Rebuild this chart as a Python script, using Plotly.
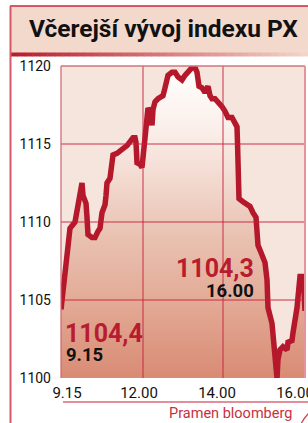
import plotly.graph_objects as go

# chart time axis (hours on the chart's own scale) and PX index values
cas = [9.95, 10.0, 10.05, 10.1, 10.125, 10.175, 10.3, 10.375, 10.425, 10.475, 10.5, 10.575, 10.6, 10.625,
       10.725, 10.8, 10.875, 10.925, 10.975, 11.05, 11.075, 11.1, 11.175, 11.2, 11.225, 11.25, 11.35, 11.425,
       11.5, 11.6, 11.675, 11.75, 11.8, 11.825, 11.85, 11.925, 11.975, 12.0, 12.05, 12.1, 12.125, 12.175,
       12.225, 12.25, 12.3, 12.375, 12.425, 12.5, 12.55, 12.6, 12.625, 12.725, 12.8, 12.875, 12.975, 13.05,
       13.125, 13.225, 13.3, 13.35, 13.4, 13.475, 13.55, 13.625, 13.675, 13.725, 13.8, 13.875, 13.975, 14.05,
       14.125, 14.225, 14.3, 14.35, 14.3625, 14.375, 14.3875, 14.4, 14.5, 14.575, 14.675, 14.75, 14.825,
       14.85, 14.875, 14.925, 15.05, 15.1, 15.125, 15.225, 15.275, 15.325, 15.35, 15.375, 15.425, 15.5,
       15.6, 15.625, 15.725, 15.75, 15.85, 15.925, 16.0, 16.025, 16.05]
px_index = [1104.4, 1105.6, 1106.9, 1108.5, 1109.0, 1109.6, 1110.0, 1110.9, 1111.5, 1112.5, 1111.7, 1111.2,
            1110.3, 1109.2, 1109.0, 1109.0, 1109.4, 1109.6, 1110.6, 1111.1, 1111.7, 1112.5, 1112.8, 1113.2,
            1113.8, 1114.3, 1114.4, 1114.6, 1114.7, 1114.9, 1115.1, 1115.4, 1115.4, 1115.1, 1113.8, 1113.7,
            1113.5, 1114.3, 1116.0, 1116.9, 1117.3, 1117.1, 1116.2, 1117.2, 1117.7, 1117.9, 1118.0, 1118.1,
            1118.6, 1119.0, 1119.4, 1119.6, 1119.6, 1119.3, 1119.1, 1119.4, 1119.6, 1119.9, 1119.9, 1119.6,
            1118.7, 1118.6, 1118.3, 1118.7, 1118.1, 1117.9, 1117.9, 1117.7, 1117.4, 1117.1, 1116.7, 1116.7,
            1116.4, 1116.1, 1115.1, 1114.3, 1112.8, 1111.5, 1111.3, 1111.2, 1111.0, 1110.6, 1110.3, 1109.4,
            1108.5, 1108.2, 1107.4, 1106.3, 1104.5, 1103.5, 1102.4, 1101.2, 1100.0, 1101.2, 1101.8, 1102.0,
            1101.8, 1102.3, 1102.4, 1102.9, 1104.5, 1106.5, 1106.5, 1105.6, 1104.3]

# tick labels are set slightly off the gridlines, as in the original graphic
x_tick_vals = [10.1, 11.9, 13.85, 15.8]
x_tick_text = ["9.15", "12.00", "14.00", "16.00"]
y_tick_vals = [1100, 1105, 1110, 1115, 1120]
y_tick_text = ["1100", "1105", "1110", "1115", "1120"]
x_grid = [12.0, 14.0]
y_grid = [1105, 1110, 1115]

title = "Včerejší vývoj indexu PX"
open_value, open_time = "1104,4", "9.15"
close_value, close_time = "1104,3", "16.00"
source = "Pramen bloomberg"

W, H = 308, 423
L, R, T, B = 61, 3, 66, 45
PW, PH = W - L - R, H - T - B
FONT = "Roboto"
RED = "#b5172b"
GRID = "rgba(200,30,58,0.9)"


def fx(p):
    return (p - L) / PW


def fy(p):
    return (H - B - p) / PH


fig = go.Figure()
fig.add_trace(go.Scatter(
    x=cas, y=px_index, mode="lines",
    line=dict(color=RED, width=5.5, shape="linear"),
    fill="tozeroy",
    fillgradient=dict(type="vertical", start=1100, stop=1120,
                      colorscale=[[0, "#d98b74"], [0.25, "#e3ab97"], [0.45, "#e9c1b1"],
                                  [0.8, "#fbefea"], [1, "#ffffff"]]),
    hoverinfo="skip", showlegend=False,
))

shapes = []
# title bar
shapes.append(dict(type="rect", xref="paper", yref="paper", x0=fx(10), x1=fx(309), y0=fy(53), y1=fy(6),
                   fillcolor="#f3d8cc", line=dict(width=0), layer="above"))
shapes.append(dict(type="line", xref="paper", yref="paper", x0=fx(10), x1=fx(309), y0=fy(6), y1=fy(6),
                   line=dict(color="#c8283a", width=1.5), layer="above"))
n = 40
c0, c1 = (184, 28, 46), (242, 212, 200)
for i in range(n):
    a = i / (n - 1)
    col = "rgb(%d,%d,%d)" % tuple(round(c0[k] + (c1[k] - c0[k]) * a) for k in range(3))
    shapes.append(dict(type="rect", xref="paper", yref="paper",
                       x0=fx(10 + i * 298 / n), x1=fx(10 + (i + 1) * 298 / n + 0.5),
                       y0=fy(56.5), y1=fy(52.5), fillcolor=col, line=dict(width=0), layer="above"))
# left frame border
shapes.append(dict(type="line", xref="paper", yref="paper", x0=fx(10.5), x1=fx(10.5), y0=fy(6), y1=fy(424),
                   line=dict(color="#d45a68", width=2), layer="above"))
# gridlines
for g in x_grid:
    shapes.append(dict(type="line", xref="x", yref="paper", x0=g, x1=g, y0=0, y1=1,
                       line=dict(color=GRID, width=1), layer="above"))
for g in y_grid:
    shapes.append(dict(type="line", xref="paper", yref="y", x0=0, x1=1, y0=g, y1=g,
                       line=dict(color=GRID, width=1), layer="above"))
# plot frame
shapes.append(dict(type="line", xref="paper", yref="paper", x0=0, x1=1, y0=1, y1=1,
                   line=dict(color="#d2737a", width=1.5), layer="above"))
shapes.append(dict(type="line", xref="paper", yref="paper", x0=0, x1=0, y0=0, y1=1,
                   line=dict(color="#cc6670", width=1.2), layer="above"))
shapes.append(dict(type="line", xref="paper", yref="paper", x0=1, x1=1, y0=0, y1=1,
                   line=dict(color="#e3959b", width=2), layer="above"))
# source rule and swoosh
shapes.append(dict(type="line", xref="paper", yref="paper", x0=fx(63), x1=fx(309), y0=fy(402), y1=fy(402),
                   line=dict(color="#d96a78", width=1.5), layer="above"))
shapes.append(dict(type="path", xref="paper", yref="paper",
                   path="M %f %f Q %f %f %f %f" % (fx(301), fy(424), fx(304), fy(418), fx(309), fy(413)),
                   line=dict(color="#d04050", width=1.3), layer="above"))

annotations = [
    dict(text="<b>%s</b>" % title, xref="paper", yref="paper", x=fx(27), y=fy(28), xanchor="left",
         yanchor="middle", showarrow=False, font=dict(family=FONT, size=24.5, color="#111111")),
    dict(text="<b>%s</b>" % open_value, xref="paper", yref="paper", x=fx(63), y=fy(333), xanchor="left",
         yanchor="middle", showarrow=False, font=dict(family=FONT, size=25, color="#b81c2e")),
    dict(text="<b>%s</b>" % open_time, xref="paper", yref="paper", x=fx(64), y=fy(355), xanchor="left",
         yanchor="middle", showarrow=False, font=dict(family=FONT, size=18.5, color="#111111")),
    dict(text="<b>%s</b>" % close_value, xref="paper", yref="paper", x=fx(256), y=fy(268), xanchor="right",
         yanchor="middle", showarrow=False, font=dict(family=FONT, size=25, color="#b81c2e")),
    dict(text="<b>%s</b>" % close_time, xref="paper", yref="paper", x=fx(256), y=fy(291), xanchor="right",
         yanchor="middle", showarrow=False, font=dict(family=FONT, size=18.5, color="#111111")),
    dict(text=source, xref="paper", yref="paper", x=fx(294), y=fy(413), xanchor="right",
         yanchor="middle", showarrow=False, font=dict(family=FONT, size=14.5, color="#c8303e")),
]

fig.update_layout(
    width=W, height=H, autosize=False, margin=dict(l=L, r=R, t=T, b=B, pad=0, autoexpand=False),
    paper_bgcolor="#ffffff", plot_bgcolor="#f5e5dd",
    shapes=shapes, annotations=annotations, showlegend=False,
    xaxis=dict(range=[9.95, 16.05], tickvals=x_tick_vals, ticktext=x_tick_text, showgrid=False,
               zeroline=False, showline=False, ticks="", fixedrange=True, automargin=False,
               ticklabeloverflow="allow", ticklabelstandoff=4,
               tickfont=dict(family=FONT, size=15, color="#111111")),
    yaxis=dict(range=[1100, 1120], tickvals=y_tick_vals, ticktext=y_tick_text, showgrid=False,
               zeroline=False, showline=False, ticks="", ticklabelstandoff=9, fixedrange=True,
               automargin=False, tickfont=dict(family=FONT, size=14, color="#111111")),
)

fig.write_html("out.html", config={"displayModeBar": False, "responsive": False},
               post_script="document.body.style.margin='0px';")
